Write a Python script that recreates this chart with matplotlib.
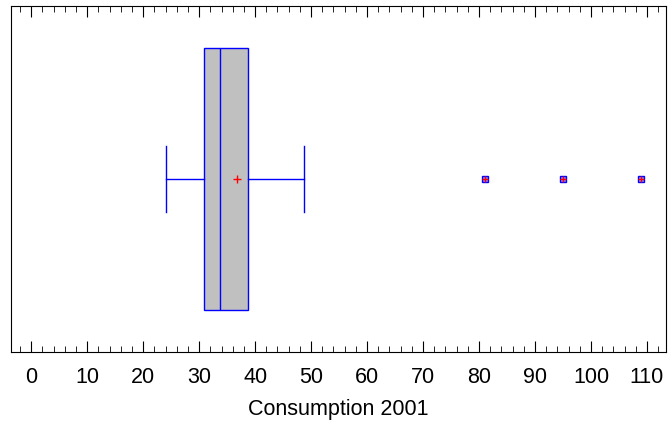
import matplotlib.pyplot as plt
from matplotlib.ticker import MultipleLocator

plt.rcParams["font.family"] = ["Liberation Sans", "DejaVu Sans"]

# summary of Consumption 2001
whisker_lo = 24
q1 = 30.8
median = 33.8
mean = 36.7
q3 = 38.8
whisker_hi = 48.8
outliers = [81, 95, 109]

stats = [dict(whislo=whisker_lo, q1=q1, med=median, mean=mean,
              q3=q3, whishi=whisker_hi, fliers=outliers)]

fig = plt.figure(figsize=(6.68, 4.28), dpi=100)
ax = fig.add_axes([0.0165, 0.1776, 0.9805, 0.8084])

blue = "#0000ff"
ax.bxp(stats, positions=[0.5], widths=0.76, capwidths=0.19,
       orientation="horizontal", showmeans=True, patch_artist=True,
       boxprops=dict(facecolor="#c0c0c0", edgecolor=blue, linewidth=1.0),
       medianprops=dict(color=blue, linewidth=1.0),
       whiskerprops=dict(color=blue, linewidth=1.0),
       capprops=dict(color=blue, linewidth=1.0),
       meanprops=dict(marker="+", markeredgecolor="red", markersize=6,
                      markeredgewidth=1),
       flierprops=dict(marker="s", markersize=4, markerfacecolor="#9090ff",
                       markeredgecolor=blue, markeredgewidth=1))
ax.plot(outliers, [0.5] * len(outliers), "+", color="red",
        markersize=5, markeredgewidth=1)

ax.set_xlim(-3.6, 113.4)
ax.set_ylim(0, 1)
ax.xaxis.set_major_locator(MultipleLocator(10))
ax.xaxis.set_minor_locator(MultipleLocator(2))
ax.tick_params(axis="x", which="both", direction="in", top=True,
               labelsize=15.5, pad=11)
ax.tick_params(axis="x", which="major", length=8)
ax.tick_params(axis="x", which="minor", length=4)
ax.set_yticks([])
ax.set_xlabel("Consumption 2001", fontsize=15.5, labelpad=8)

fig.savefig("out.png", dpi=100)
